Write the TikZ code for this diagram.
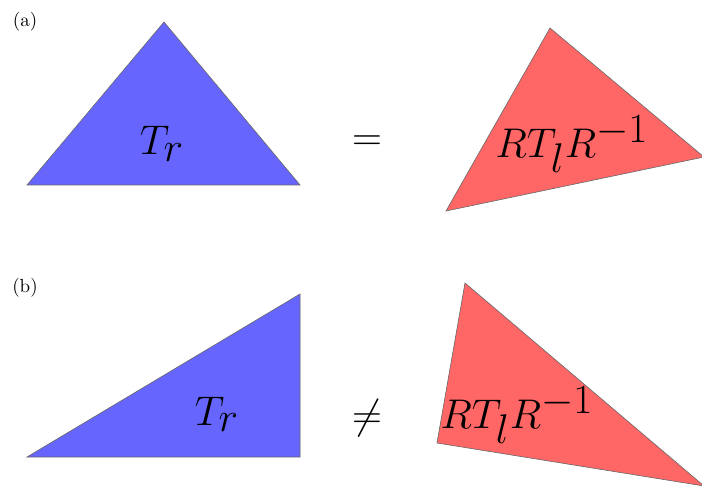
\documentclass[tikz,border=0pt]{standalone}
\usepackage{amsmath}
\usepackage{amssymb}
\usepackage{tikz}
\usetikzlibrary{positioning}
\DeclareMathSizes{21}{21}{19.5}{17}

\begin{document}
\begin{tikzpicture}[
        x=0.5pt, y=-0.5pt,
        % Styles des triangles
        lefttri/.style = {fill=blue!60, draw=black!60, line width=0.3pt},
        righttri/.style = {fill=red!60, draw=black!60, line width=0.3pt},
        % Styles du texte
        tag/.style = {font=\fontsize{9.5}{11}\selectfont, inner sep=0pt},
        formula/.style = {font=\fontsize{21}{25}\selectfont, inner sep=0pt, anchor=base}
    ]
        \useasboundingbox (0,0) rectangle (702,486);
        \clip (0,0) rectangle (702,486);

        % 1. Partie (a)
        \filldraw [lefttri] (27,185) -- (164,22) -- (300,185) -- cycle;
        \filldraw [righttri] (550,28) -- (704,157) -- (446,211) -- cycle;
        \node (taga)  [tag] at (25,22) {(a)};
        \node (tra)   [formula] at (162,155) {$T_r$};
        \node (eqa)   [formula, anchor=center] at (367,143) {$=$};
        \node (rtla)  [formula] at (572,158) {$RT_lR^{-1}$};

        % 2. Partie (b)
        \filldraw [lefttri] (27,457) -- (300,294) -- (300,457) -- cycle;
        \filldraw [righttri] (465,283) -- (704,486) -- (437,443) -- cycle;
        \node (tagb)  [tag] at (25,288) {(b)};
        \node (trb)   [formula] at (217,425) {$T_r$};
        \node (neqb)  [formula, anchor=center] at (367,418) {$\neq$};
        \node (rtlb)  [formula] at (517,429) {$RT_lR^{-1}$};

    \end{tikzpicture}
\end{document}
